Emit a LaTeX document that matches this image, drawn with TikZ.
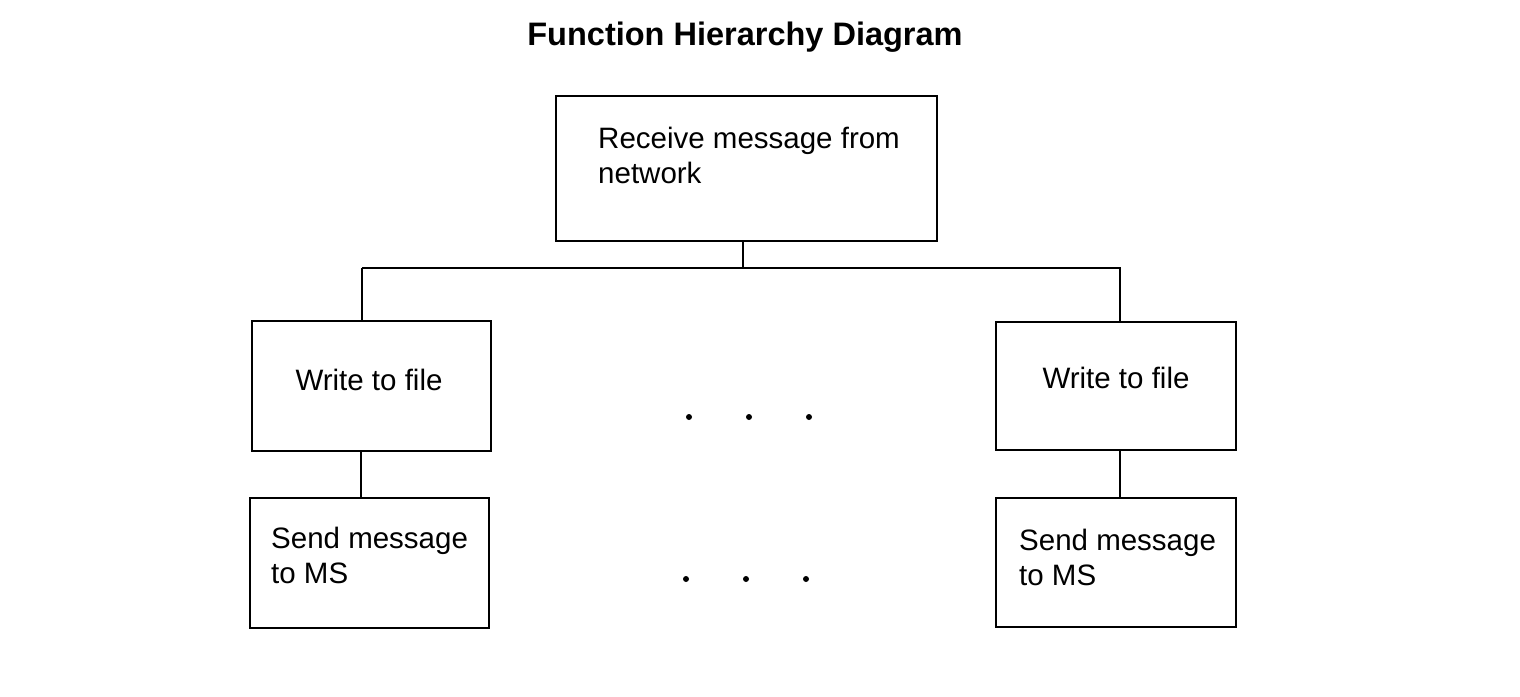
\documentclass[tikz,border=0pt]{standalone}
\usepackage{fontspec}
\setmainfont{Liberation Sans}
\begin{document}
\begin{tikzpicture}[x=1pt,y=-1pt,
  box/.style={draw,line width=2.8pt},
  lbl/.style={font=\fontsize{29.5}{35}\selectfont,align=left,inner sep=0pt},
  ln/.style={line width=2.8pt},
  dot/.style={fill,circle,inner sep=0pt,minimum size=6pt}]
\useasboundingbox (0,0) rectangle (1520,696);
\node[font=\bfseries\fontsize{32.5}{36}\selectfont] (title) at (745,37) {Function Hierarchy Diagram};
\draw[box] (556,96) rectangle (937,241);
\coordinate (top) at (743,241);
\node[lbl,anchor=base west] (t1) at (598,148) {Receive message from};
\node[lbl,anchor=base west] (t2) at (598,183) {network};
\draw[box] (252,321) rectangle (491,451);
\node[lbl] (w1) at (369,380) {Write to file};
\draw[box] (996,322) rectangle (1236,450);
\node[lbl] (w2) at (1116,378) {Write to file};
\draw[box] (250,498) rectangle (489,628);
\node[lbl,anchor=base west] (s1) at (271,548) {Send message};
\node[lbl,anchor=base west] (s1b) at (271,583) {to MS};
\draw[box] (996,498) rectangle (1236,627);
\node[lbl,anchor=base west] (s2) at (1019,550) {Send message};
\node[lbl,anchor=base west] (s2b) at (1019,585) {to MS};
\coordinate (bl) at (362,268);
\coordinate (br) at (1121,268);
\coordinate (bm) at (743,268);
\draw[ln] (top) -- (bm);
\draw[ln] (bl) -- (br);
\draw[ln] (bl) -- (362,321);
\draw[ln] (1120,268) -- (1120,322);
\draw[ln] (361,451) -- (361,498);
\draw[ln] (1120,450) -- (1120,498);
\foreach \x/\n in {689/a,749/b,809/c}{\node[dot] (d1\n) at (\x,417) {};}
\foreach \x/\n in {686/a,746/b,806/c}{\node[dot] (d2\n) at (\x,579) {};}
\end{tikzpicture}
\end{document}
